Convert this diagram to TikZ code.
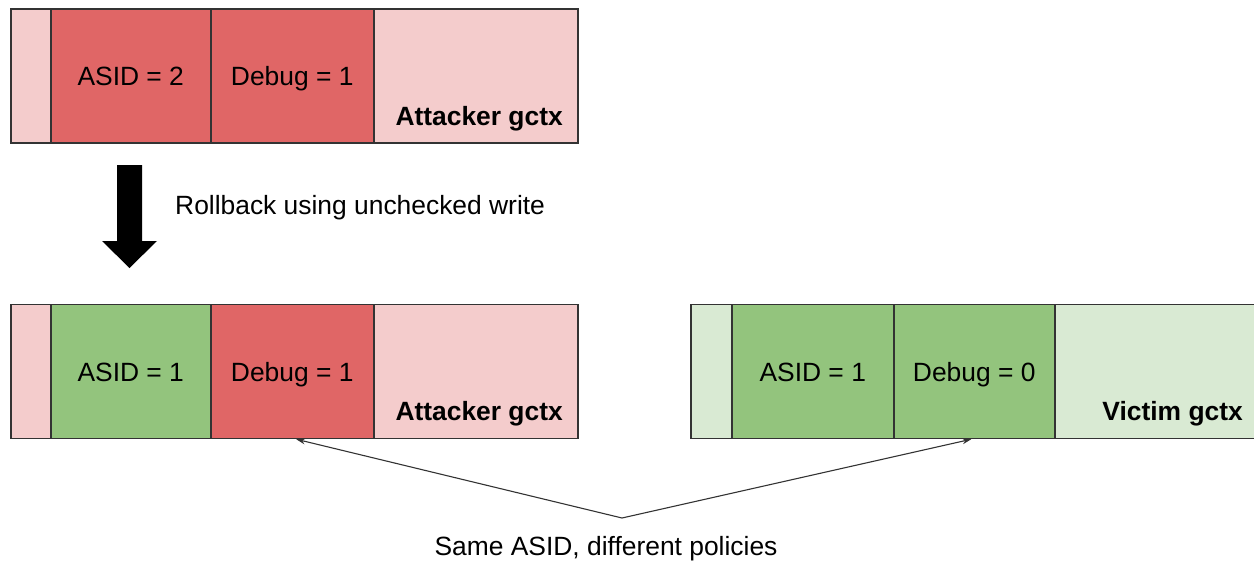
\documentclass[tikz,border=0pt]{standalone}
\usepackage{fontspec}
\setmainfont{Liberation Sans}
\usetikzlibrary{arrows.meta}
\definecolor{redD}{HTML}{E06666}
\definecolor{redL}{HTML}{F4CCCC}
\definecolor{greenD}{HTML}{93C47D}
\definecolor{greenL}{HTML}{D9EAD3}
\definecolor{edge}{HTML}{333333}
\tikzset{
  every node/.style={font=\fontsize{26.4}{30}\selectfont},
  outerbox/.style={draw=edge, line width=1.5pt, minimum height=134pt, inner sep=0pt, anchor=west},
  cellbox/.style={draw=edge, line width=1.5pt, minimum height=134pt, inner sep=0pt, anchor=west, text height=19pt, text depth=0pt},
  tagtext/.style={anchor=base east, inner sep=0pt, font=\fontsize{26.4}{30}\selectfont\bfseries},
  plaintext/.style={inner sep=0pt},
  link/.style={draw=edge, line width=1.1pt, -{Stealth[length=9pt,width=6pt]}},
}
\begin{document}
\begin{tikzpicture}[x=1pt,y=-1pt]
\useasboundingbox (0,0) rectangle (1254,562);
% top row: attacker before rollback
\node[outerbox, fill=redL, minimum width=567pt] (a0) at (10,76) {};
\node[cellbox, fill=redD, minimum width=160pt] (a1) at (50,76) {ASID = 2};
\node[cellbox, fill=redD, minimum width=163pt] (a2) at (210,76) {Debug = 1};
\node[tagtext] (a3) at (563,125) {Attacker gctx};
% block arrow
\fill[black] (117,165) -- (142,165) -- (142,241) -- (157,241) -- (129.5,268) -- (102,241) -- (117,241) -- cycle;
\node[plaintext, anchor=west] (rb) at (175,208) {Rollback using unchecked write};
% middle row: attacker after rollback
\node[outerbox, fill=redL, minimum width=567pt] (b0) at (10,371.5) {};
\node[cellbox, fill=greenD, minimum width=160pt] (b1) at (50,371.5) {ASID = 1};
\node[cellbox, fill=redD, minimum width=163pt] (b2) at (210,371.5) {Debug = 1};
\node[tagtext] (b3) at (563,420) {Attacker gctx};
% victim
\node[outerbox, fill=greenL, minimum width=567pt] (d0) at (690,371.5) {};
\node[cellbox, fill=greenD, minimum width=162pt] (d1) at (731,371.5) {ASID = 1};
\node[cellbox, fill=greenD, minimum width=161pt] (d2) at (893,371.5) {Debug = 0};
\node[tagtext] (d3) at (1243,420) {Victim gctx};
% connectors
\coordinate (apex) at (622,518);
\draw[link] (apex) -- ([xshift=4pt]b2.south);
\draw[link] (apex) -- ([xshift=-3pt]d2.south);
\node[plaintext] (note) at (606,549) {Same ASID, different policies};
\end{tikzpicture}
\end{document}
